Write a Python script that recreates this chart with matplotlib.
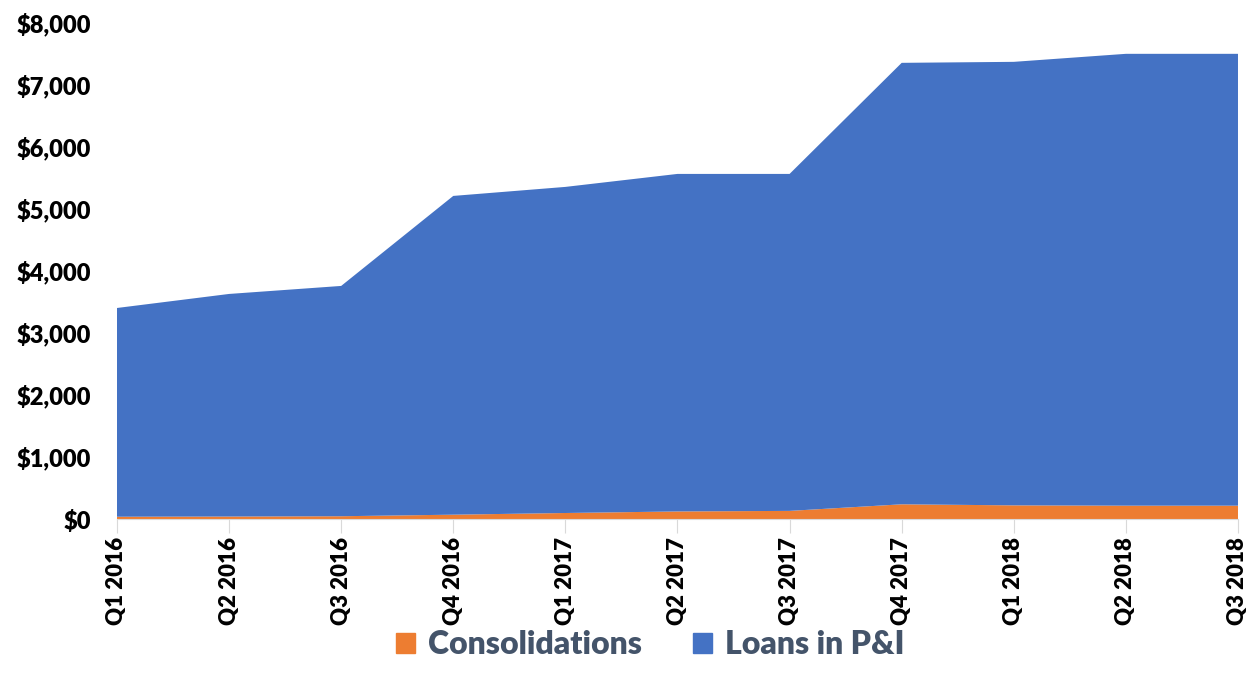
import matplotlib.pyplot as plt
from matplotlib.ticker import FuncFormatter, MultipleLocator
from matplotlib.patches import Patch

quarters = ['Q1 2016', 'Q2 2016', 'Q3 2016', 'Q4 2016', 'Q1 2017', 'Q2 2017',
            'Q3 2017', 'Q4 2017', 'Q1 2018', 'Q2 2018', 'Q3 2018']
consolidations = [37, 40, 45, 70, 97, 122, 131, 237, 220, 215, 215]
totals = [3397, 3623, 3752, 5201, 5346, 5555, 5555, 7343, 7359, 7488, 7488]
loans_pi = [t - c for t, c in zip(totals, consolidations)]

blue = '#4472C4'
orange = '#ED7D31'

plt.rcParams['font.family'] = ['Lato', 'DejaVu Sans']

fig = plt.figure(figsize=(12.51, 6.86), dpi=100)
ax = fig.add_axes([0.0935, 0.2434, 0.8961, 0.7245])

x = list(range(len(quarters)))
ax.stackplot(x, consolidations, loans_pi, colors=[orange, blue], linewidth=0)

ax.set_xlim(0, len(quarters) - 1)
ax.set_ylim(0, 8000)
ax.yaxis.set_major_locator(MultipleLocator(1000))
ax.yaxis.set_major_formatter(FuncFormatter(lambda v, p: f'${v:,.0f}'))

ax.set_xticks(x)
ax.set_xticklabels(quarters, rotation=90, fontsize=16, fontweight='heavy')
for lbl in ax.get_yticklabels():
    lbl.set_fontsize(17)
    lbl.set_fontweight('heavy')

for s in ['top', 'right', 'left']:
    ax.spines[s].set_visible(False)
ax.spines['bottom'].set_color('#D9D9D9')
ax.tick_params(axis='x', length=10, color='#D9D9D9', pad=3)
ax.tick_params(axis='y', length=0, pad=19)

handles = [Patch(color=orange, label='Consolidations'), Patch(color=blue, label='Loans in P&I')]
leg = fig.legend(handles=handles, loc='center', bbox_to_anchor=(0.52, 0.06), ncol=2,
                 frameon=False, prop={'size': 23, 'weight': 'heavy'},
                 handlelength=0.6, handleheight=0.6, handletextpad=0.4, columnspacing=1.6)
for t in leg.get_texts():
    t.set_color('#44546A')

fig.savefig('out.png', dpi=100)
